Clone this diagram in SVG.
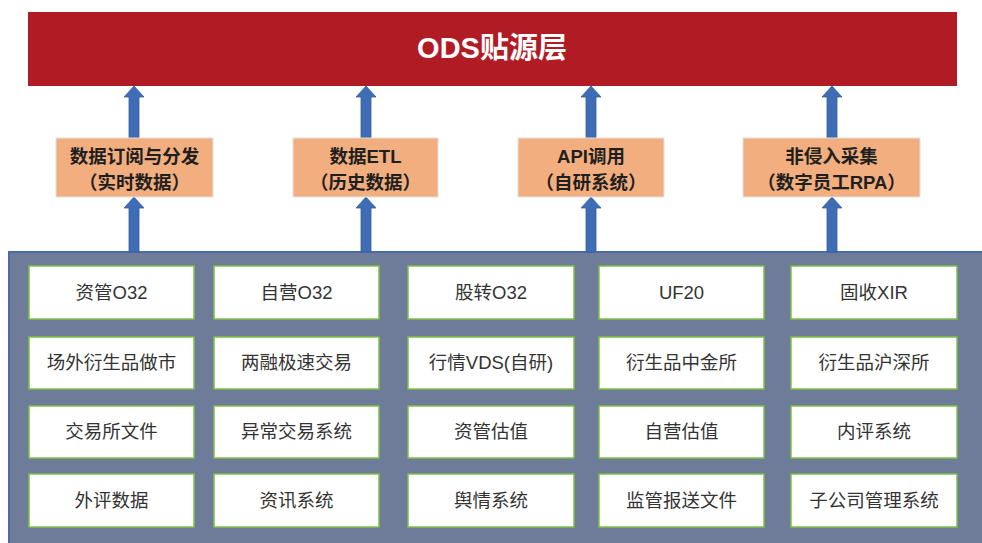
<svg xmlns="http://www.w3.org/2000/svg" width="982" height="543" viewBox="0 0 982 543">
<defs>
<style>
.cjk{font-family:"Liberation Sans","Noto Sans CJK SC",sans-serif;}
.title{font-size:29px;font-weight:bold;fill:#ffffff;text-anchor:middle;}
.mid{fill:#F2AE7E;stroke:#E2E2E2;stroke-width:1;}
.midt{font-size:18.5px;font-weight:bold;fill:#1f1f1f;text-anchor:middle;}
.src{fill:#ffffff;stroke:#7DC242;stroke-width:1.5;}
.srct{font-size:18.5px;fill:#333333;text-anchor:middle;}
.arr{fill:#3F6DB5;stroke:#34609F;stroke-width:0.8;}
</style>
</defs>
<rect x="0" y="0" width="982" height="543" fill="#ffffff"/>
<g id="ods">
<rect x="28" y="12" width="929" height="74" fill="#B11C24"/>
<text class="cjk title" x="492" y="58">ODS贴源层</text>
</g>
<g id="panel">
<rect x="9" y="252" width="980" height="300" fill="#6E7B99" stroke="#4A6AA8" stroke-width="2"/>
</g>
<g id="connectors">
<path class="arr" d="M129,138 V97 H124 L134,86 L144,97 H139 V138 Z"/>
<path class="arr" d="M129,252 V208 H124 L134,197 L144,208 H139 V252 Z"/>
<path class="arr" d="M361,138 V97 H356 L366,86 L376,97 H371 V138 Z"/>
<path class="arr" d="M361,252 V208 H356 L366,197 L376,208 H371 V252 Z"/>
<path class="arr" d="M586,138 V97 H581 L591,86 L601,97 H596 V138 Z"/>
<path class="arr" d="M586,252 V208 H581 L591,197 L601,208 H596 V252 Z"/>
<path class="arr" d="M827,138 V97 H822 L832,86 L842,97 H837 V138 Z"/>
<path class="arr" d="M827,252 V208 H822 L832,197 L842,208 H837 V252 Z"/>
</g>
<g id="m1"><rect class="mid" x="56" y="138" width="157" height="59"/><text class="cjk midt" x="134.5" y="163">数据订阅与分发</text><text class="cjk midt" x="134.5" y="189">（实时数据）</text></g>
<g id="m2"><rect class="mid" x="293" y="138" width="145" height="59"/><text class="cjk midt" x="365.5" y="163">数据ETL</text><text class="cjk midt" x="365.5" y="189">（历史数据）</text></g>
<g id="m3"><rect class="mid" x="518" y="138" width="146" height="59"/><text class="cjk midt" x="591" y="163">API调用</text><text class="cjk midt" x="591" y="189">（自研系统）</text></g>
<g id="m4"><rect class="mid" x="743" y="138" width="177" height="59"/><text class="cjk midt" x="831.5" y="163">非侵入采集</text><text class="cjk midt" x="831.5" y="189">（数字员工RPA）</text></g>
<g id="s11"><rect class="src" x="29" y="266" width="165" height="53"/><text class="cjk srct" x="111.5" y="299">资管O32</text></g>
<g id="s12"><rect class="src" x="214" y="266" width="165" height="53"/><text class="cjk srct" x="296.5" y="299">自营O32</text></g>
<g id="s13"><rect class="src" x="408" y="266" width="166" height="53"/><text class="cjk srct" x="491" y="299">股转O32</text></g>
<g id="s14"><rect class="src" x="599" y="266" width="165" height="53"/><text class="cjk srct" x="681.5" y="299">UF20</text></g>
<g id="s15"><rect class="src" x="791" y="266" width="166" height="53"/><text class="cjk srct" x="874" y="299">固收XIR</text></g>
<g id="s21"><rect class="src" x="29" y="337" width="165" height="52"/><text class="cjk srct" x="111.5" y="369">场外衍生品做市</text></g>
<g id="s22"><rect class="src" x="214" y="337" width="165" height="52"/><text class="cjk srct" x="296.5" y="369">两融极速交易</text></g>
<g id="s23"><rect class="src" x="408" y="337" width="166" height="52"/><text class="cjk srct" x="491" y="369">行情VDS(自研)</text></g>
<g id="s24"><rect class="src" x="599" y="337" width="165" height="52"/><text class="cjk srct" x="681.5" y="369">衍生品中金所</text></g>
<g id="s25"><rect class="src" x="791" y="337" width="166" height="52"/><text class="cjk srct" x="874" y="369">衍生品沪深所</text></g>
<g id="s31"><rect class="src" x="29" y="406" width="165" height="52"/><text class="cjk srct" x="111.5" y="438">交易所文件</text></g>
<g id="s32"><rect class="src" x="214" y="406" width="165" height="52"/><text class="cjk srct" x="296.5" y="438">异常交易系统</text></g>
<g id="s33"><rect class="src" x="408" y="406" width="166" height="52"/><text class="cjk srct" x="491" y="438">资管估值</text></g>
<g id="s34"><rect class="src" x="599" y="406" width="165" height="52"/><text class="cjk srct" x="681.5" y="438">自营估值</text></g>
<g id="s35"><rect class="src" x="791" y="406" width="166" height="52"/><text class="cjk srct" x="874" y="438">内评系统</text></g>
<g id="s41"><rect class="src" x="29" y="474" width="165" height="53"/><text class="cjk srct" x="111.5" y="507">外评数据</text></g>
<g id="s42"><rect class="src" x="214" y="474" width="165" height="53"/><text class="cjk srct" x="296.5" y="507">资讯系统</text></g>
<g id="s43"><rect class="src" x="408" y="474" width="166" height="53"/><text class="cjk srct" x="491" y="507">舆情系统</text></g>
<g id="s44"><rect class="src" x="599" y="474" width="165" height="53"/><text class="cjk srct" x="681.5" y="507">监管报送文件</text></g>
<g id="s45"><rect class="src" x="791" y="474" width="166" height="53"/><text class="cjk srct" x="874" y="507">子公司管理系统</text></g>
</svg>
